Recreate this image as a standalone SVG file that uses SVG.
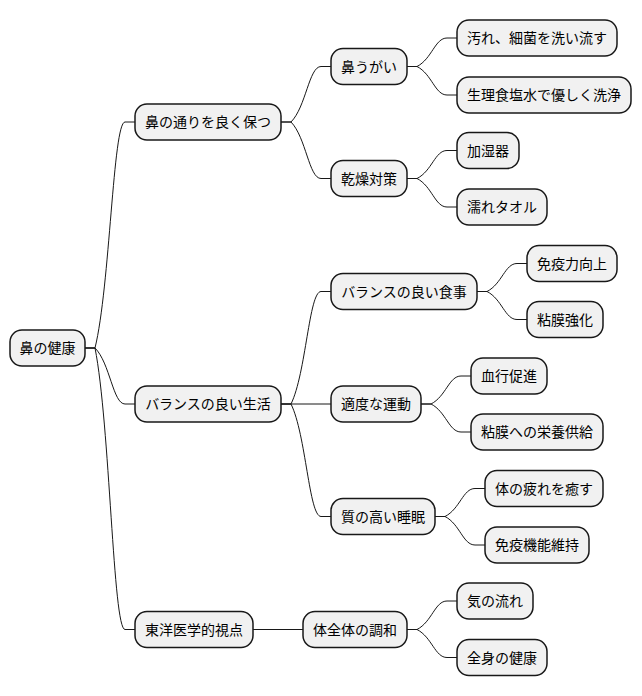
<svg xmlns="http://www.w3.org/2000/svg" width="642" height="696" viewBox="0 0 642 696">
<style>
.n rect{fill:#f1f1f1;stroke:#181818;stroke-width:1.5}
.n text{font-family:"Noto Sans CJK JP","Noto Sans",sans-serif;font-size:14px;fill:#000;text-anchor:middle}
#links path{fill:none;stroke:#181818;stroke-width:1}
</style>
<rect width="642" height="696" fill="#fff"/>
<g id="links">
<path d="M85,348 L95,348 C110,287 113,122 125,122 L135,122"/>
<path d="M85,348 L95,348 C110,363 113,404 125,404 L135,404"/>
<path d="M85,348 L95,348 C110,424 113,629.5 125,629.5 L135,629.5"/>
<path d="M281,122 L291,122 C306,107 309,66.5 321,66.5 L331,66.5"/>
<path d="M281,122 L291,122 C306,137.3 309,178.5 321,178.5 L331,178.5"/>
<path d="M281,404 L291,404 C306,373.6 309,291.5 321,291.5 L331,291.5"/>
<path d="M281,404 L331,404"/>
<path d="M281,404 L291,404 C306,434.4 309,516.5 321,516.5 L331,516.5"/>
<path d="M253,629.5 L303,629.5"/>
<path d="M407,66.5 L417,66.5 C432,58.8 435,38 447,38 L457,38"/>
<path d="M407,66.5 L417,66.5 C432,74.2 435,95 447,95 L457,95"/>
<path d="M407,178.5 L417,178.5 C432,171 435,150.5 447,150.5 L457,150.5"/>
<path d="M407,178.5 L417,178.5 C432,186.2 435,207 447,207 L457,207"/>
<path d="M477,291.5 L487,291.5 C502,283.9 505,263.5 517,263.5 L527,263.5"/>
<path d="M477,291.5 L487,291.5 C502,299.1 505,319.5 517,319.5 L527,319.5"/>
<path d="M421,404 L431,404 C446,396.4 449,376 461,376 L471,376"/>
<path d="M421,404 L431,404 C446,411.6 449,432 461,432 L471,432"/>
<path d="M435,516.5 L445,516.5 C460,508.9 463,488.5 475,488.5 L485,488.5"/>
<path d="M435,516.5 L445,516.5 C460,524.2 463,545 475,545 L485,545"/>
<path d="M407,629.5 L417,629.5 C432,621.8 435,601 447,601 L457,601"/>
<path d="M407,629.5 L417,629.5 C432,637.2 435,657.5 447,657.5 L457,657.5"/>
</g>
<g id="root" class="n"><rect x="10" y="330" width="75" height="36" rx="12"/><text x="47.5" y="353">鼻の健康</text></g>
<g id="n1" class="n"><rect x="135" y="104" width="146" height="36" rx="12"/><text x="208" y="127">鼻の通りを良く保つ</text></g>
<g id="n2" class="n"><rect x="135" y="386" width="146" height="36" rx="12"/><text x="208" y="409">バランスの良い生活</text></g>
<g id="n3" class="n"><rect x="135" y="611.5" width="118" height="36" rx="12"/><text x="194" y="634.5">東洋医学的視点</text></g>
<g id="n11" class="n"><rect x="331" y="48.5" width="76" height="36" rx="12"/><text x="369" y="71.5">鼻うがい</text></g>
<g id="n12" class="n"><rect x="331" y="160.5" width="76" height="36" rx="12"/><text x="369" y="183.5">乾燥対策</text></g>
<g id="n21" class="n"><rect x="331" y="273.5" width="146" height="36" rx="12"/><text x="404" y="296.5">バランスの良い食事</text></g>
<g id="n22" class="n"><rect x="331" y="386" width="90" height="36" rx="12"/><text x="376" y="409">適度な運動</text></g>
<g id="n23" class="n"><rect x="331" y="498.5" width="104" height="36" rx="12"/><text x="383" y="521.5">質の高い睡眠</text></g>
<g id="n31" class="n"><rect x="303" y="611.5" width="104" height="36" rx="12"/><text x="355" y="634.5">体全体の調和</text></g>
<g id="l1" class="n"><rect x="457" y="20" width="160" height="36" rx="12"/><text x="537" y="43">汚れ、細菌を洗い流す</text></g>
<g id="l2" class="n"><rect x="457" y="77" width="174" height="36" rx="12"/><text x="544" y="100">生理食塩水で優しく洗浄</text></g>
<g id="l3" class="n"><rect x="457" y="132.5" width="62" height="36" rx="12"/><text x="488" y="155.5">加湿器</text></g>
<g id="l4" class="n"><rect x="457" y="189" width="90" height="36" rx="12"/><text x="502" y="212">濡れタオル</text></g>
<g id="l5" class="n"><rect x="527" y="245.5" width="90" height="36" rx="12"/><text x="572" y="268.5">免疫力向上</text></g>
<g id="l6" class="n"><rect x="527" y="301.5" width="76" height="36" rx="12"/><text x="565" y="324.5">粘膜強化</text></g>
<g id="l7" class="n"><rect x="471" y="358" width="76" height="36" rx="12"/><text x="509" y="381">血行促進</text></g>
<g id="l8" class="n"><rect x="471" y="414" width="132" height="36" rx="12"/><text x="537" y="437">粘膜への栄養供給</text></g>
<g id="l9" class="n"><rect x="485" y="470.5" width="118" height="36" rx="12"/><text x="544" y="493.5">体の疲れを癒す</text></g>
<g id="l10" class="n"><rect x="485" y="527" width="104" height="36" rx="12"/><text x="537" y="550">免疫機能維持</text></g>
<g id="l11" class="n"><rect x="457" y="583" width="76" height="36" rx="12"/><text x="495" y="606">気の流れ</text></g>
<g id="l12" class="n"><rect x="457" y="639.5" width="90" height="36" rx="12"/><text x="502" y="662.5">全身の健康</text></g>
</svg>
